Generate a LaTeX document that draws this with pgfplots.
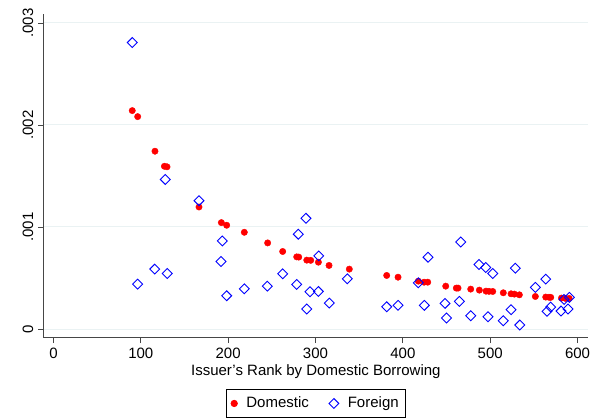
\documentclass[border=0pt]{standalone}
\usepackage{pgfplots}
\pgfplotsset{compat=1.18}
\usepackage{fontspec}
\setmainfont{Liberation Sans}
\definecolor{gridc}{RGB}{234,242,243}
\definecolor{axc}{RGB}{70,70,70}
\begin{document}
\fontsize{15}{18}\selectfont
\begin{tikzpicture}[x=1pt,y=1pt]
\useasboundingbox (0,0) rectangle (601,418);
\begin{axis}[
  at={(43.7pt,80.3pt)}, anchor=south west,
  scale only axis, width=544.3pt, height=323.7pt,
  xmin=-11.2, xmax=612, ymin=-0.0000853, ymax=0.003088,
  axis x line*=bottom, axis y line*=left,
  axis line style={axc, line width=0.9pt, -},
  tick align=outside, major tick length=5.3pt,
  tick style={axc, line width=0.9pt},
  xtick={0,100,...,600},
  ytick={0,0.001,0.002,0.003},
  yticklabels={0,.001,.002,.003},
  scaled y ticks=false,
  /pgf/number format/assume math mode=true,
  tick label style={font=\fontsize{15}{18}\selectfont},
  yticklabel style={rotate=90, anchor=south},
  ymajorgrids, major grid style={gridc, line width=1pt},
  xlabel={Issuer’s Rank by Domestic Borrowing},
  xlabel style={at={(axis description cs:0.5,-0.104)}, anchor=center, font=\fontsize{15}{18}\selectfont},
  legend columns=2,
  legend style={at={(axis description cs:0.5,-0.160)}, anchor=north, draw=black, line width=0.8pt,
    font=\fontsize{15}{18}\selectfont, inner xsep=5pt, inner ysep=5pt,
    /tikz/every odd column/.append style={column sep=7pt},
    /tikz/every even column/.append style={column sep=18pt}},
  legend image code/.code={\draw[mark repeat=2, mark phase=2, #1] plot coordinates {(0pt,0pt) (6pt,0pt) (12pt,0pt)};},
]
\addplot[only marks, mark=*, mark size=3.2pt, color=red, mark options={fill=red, draw=red}] coordinates {
(90.2,0.002141) (96.4,0.002082) (116.2,0.001743) (127,0.001595) (130,0.001590)
(166.6,0.001196) (192.2,0.001043) (198.3,0.001017) (218.5,0.000948) (245.2,0.000844)
(262.4,0.000760) (278.5,0.000707) (280.8,0.000705) (290,0.000675) (294.5,0.000673)
(303.3,0.000655) (315.5,0.000623) (338.7,0.000587) (381.5,0.000525) (394.5,0.000508)
(417.7,0.000469) (424.3,0.000459) (428.5,0.000459) (449.1,0.000420) (461.2,0.000401)
(463.2,0.000401) (477.7,0.000391) (487.6,0.000381) (495.2,0.000371) (498.7,0.000369)
(502.9,0.000368) (515,0.000355) (523.9,0.000345) (527.7,0.000342) (533.4,0.000335)
(551.7,0.000319) (563.6,0.000313) (567.4,0.000311) (569.3,0.000310) (581.6,0.000303)
(586.2,0.000300) (590.4,0.000300)
};
\addlegendentry{Domestic}
\addplot[only marks, mark=square, mark size=3.5pt, color=blue, mark options={rotate=45, draw=blue, fill=none, line width=0.9pt}] coordinates {
(90.2,0.002808) (96.4,0.000440) (115.9,0.000587) (128,0.001466) (130.3,0.000544)
(166.6,0.001258) (191.8,0.000662) (193.3,0.000863) (198.3,0.000326) (218.5,0.000394)
(244.8,0.000420) (262.4,0.000541) (278.5,0.000437) (280.3,0.000929) (289.1,0.001085)
(290,0.000196) (293.7,0.000365) (303.3,0.000368) (303.7,0.000717) (315.8,0.000254)
(336.4,0.000492) (381.5,0.000218) (394.5,0.000232) (417.7,0.000453) (424.6,0.000232)
(428.8,0.000704) (448.3,0.000251) (450,0.000108) (464.7,0.000271) (466.3,0.000853)
(477.7,0.000130) (487.2,0.000632) (494.9,0.000603) (497.5,0.000120) (502.9,0.000544)
(515,0.000081) (523.9,0.000189) (528.8,0.000596) (533.9,0.000039) (551.7,0.000408)
(563.6,0.000489) (565.1,0.000173) (569.3,0.000215) (581.1,0.000176) (584.6,0.000290)
(589.1,0.000196) (590.6,0.000310)
};
\addlegendentry{Foreign}
\end{axis}
\end{tikzpicture}
\end{document}
